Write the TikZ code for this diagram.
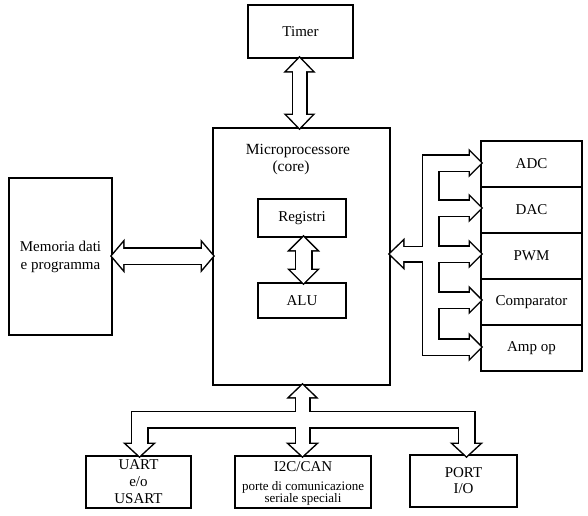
\documentclass[tikz,border=0pt]{standalone}
\usepackage{fontspec}
\setmainfont{Liberation Serif}
% open arrow heads: tip x, tip y, half width, length
\newcommand\headR[4]{(#1,#2) -- (#1-#4,#2-#3) -- (#1-#4,#2+#3) -- cycle}
\newcommand\headL[4]{(#1,#2) -- (#1+#4,#2-#3) -- (#1+#4,#2+#3) -- cycle}
\newcommand\headD[4]{(#1,#2) -- (#1-#3,#2-#4) -- (#1+#3,#2-#4) -- cycle}
\newcommand\headU[4]{(#1,#2) -- (#1-#3,#2+#4) -- (#1+#3,#2+#4) -- cycle}
\newcommand\allheads{%
 \headU{299.5}{58}{12.5}{13} \headD{299.5}{128}{12.5}{13}
 \headU{303.5}{237}{13}{13} \headD{303.5}{283}{13}{13}
 \headL{112}{256}{13}{11} \headR{213}{256}{13}{11}
 \headL{390}{254}{12.5}{13}
 \headR{481}{163}{11}{11} \headR{481}{208}{11}{11} \headR{481}{254}{11}{11}
 \headR{481}{300}{11}{11} \headR{481}{347}{11}{11}
 \headU{302.5}{385}{12.5}{12}
 \headD{139.5}{456}{13}{12} \headD{302.5}{456}{13}{12} \headD{466.5}{456}{13}{12}
}
\newcommand\allshafts[1]{%
 \draw[line width={13pt+#1}] (299.5,70) -- (299.5,116);
 \draw[line width={15pt+#1}] (303.5,249) -- (303.5,271);
 \draw[line width={15pt+#1}] (122,256) -- (203,256);
 \draw[line width={14pt+#1}] (402,254) -- (431,254);
 \draw[line width={15pt+#1}] (471,163) -- (430.8,163) -- (430.8,347) -- (471,347);
 \draw[line width={15pt+#1}] (430.8,208) -- (471,208) (430.8,254) -- (471,254) (430.8,300) -- (471,300);
 \draw[line width={13pt+#1}] (302.5,396) -- (302.5,420);
 \draw[line width={15pt+#1}] (139.5,445) -- (139.5,419.5) -- (466.5,419.5) -- (466.5,445);
 \draw[line width={13pt+#1}] (302.5,419.5) -- (302.5,445);
}
\begin{document}
\begin{tikzpicture}[x=1pt,y=-1pt,
  box/.style={draw, line width=1.8pt, inner sep=0pt, align=center,
    font=\fontsize{15}{18}\selectfont},
  txt/.style={inner sep=0pt, align=center, font=\fontsize{15.5}{17}\selectfont},
  small/.style={inner sep=0pt, align=center, font=\fontsize{13}{12}\selectfont}]
\fill[white] (0,0) rectangle (588,515);
\useasboundingbox (0,0) rectangle (588,515);

% boxes
\node[box, minimum width=105pt, minimum height=53pt] (timer) at (300.5,31.5) {Timer};
\node[box, minimum width=177pt, minimum height=257pt] (micro) at (301.5,256.5) {};
\node[txt] (microt) at (298,151) {Microprocessore};
\node[txt] (core) at (291,168) {(core)};
\node[box, minimum width=88pt, minimum height=38pt] (reg) at (302,218) {Registri};
\node[box, minimum width=88pt, minimum height=35pt] (alu) at (302,300.5) {ALU};
\node[box, minimum width=103pt, minimum height=157pt] (mem) at (60.5,256.5) {Memoria dati\\e programma};
\node[box, minimum width=101pt, minimum height=46pt] (adc) at (531.5,164) {ADC};
\node[box, minimum width=101pt, minimum height=46pt] (dac) at (531.5,210) {DAC};
\node[box, minimum width=101pt, minimum height=46pt] (pwm) at (531.5,256) {PWM};
\node[box, minimum width=101pt, minimum height=46pt] (comp) at (531.5,302) {Comparator};
\node[box, minimum width=101pt, minimum height=46pt] (amp) at (531.5,348) {Amp op};
\node[box, minimum width=105pt, minimum height=52pt, font=\fontsize{15}{17}\selectfont] (uart) at (138.5,482) {UART\\e/o\\USART};
\node[box, minimum width=136pt, minimum height=52pt] (i2c) at (303,482) {};
\node[txt, font=\fontsize{15}{17}\selectfont] (i2ct) at (303,467) {I2C/CAN};
\node[small] (i2cs) at (303,493) {porte di comunicazione\\seriale speciali};
\node[box, minimum width=107pt, minimum height=52pt, font=\fontsize{15}{16}\selectfont] (port) at (463.5,481) {PORT\\I/O};

% fat double-line arrows (outline of the union)
\begin{scope}[line join=miter, line cap=butt]
  \begin{scope}[draw=black] \allshafts{3pt} \end{scope}
  \draw[black, line width=3pt] \allheads;
  \begin{scope}[draw=white] \allshafts{0pt} \end{scope}
  \fill[white] \allheads;
\end{scope}
\end{tikzpicture}
\end{document}
